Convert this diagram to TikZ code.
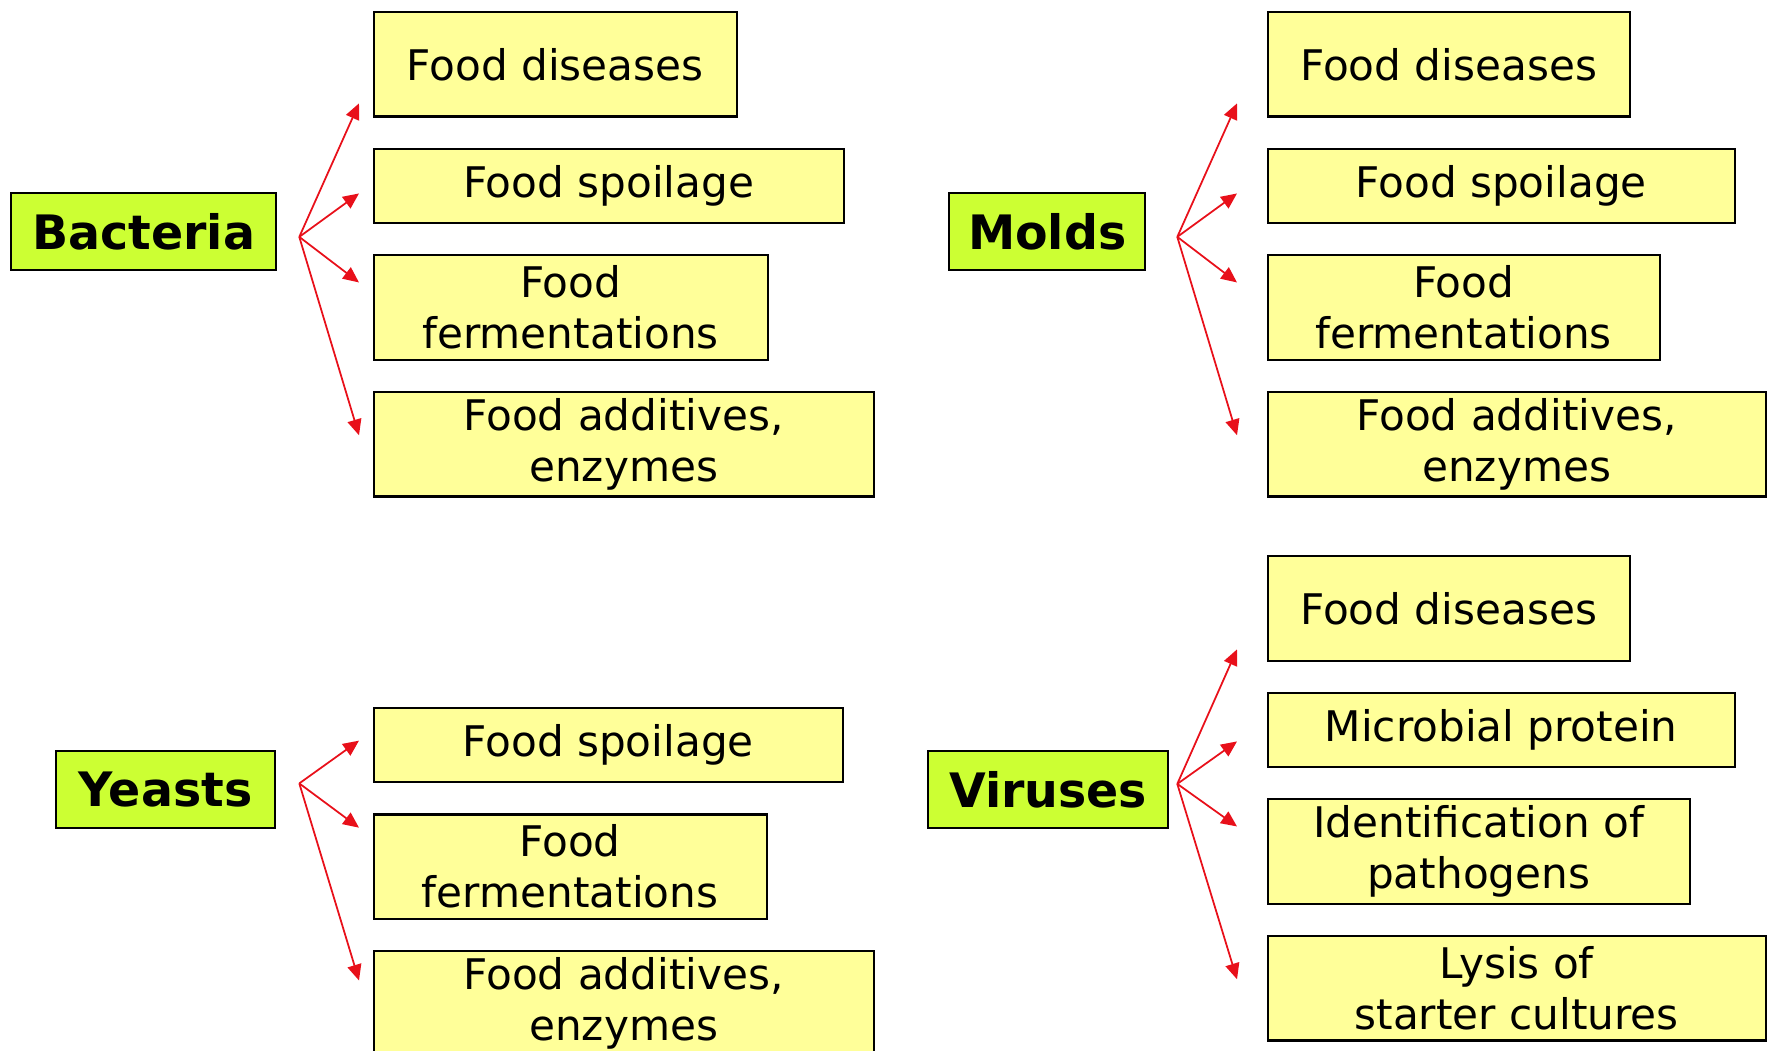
\documentclass[tikz,border=0pt]{standalone}
\usepackage{fontspec}
\setmainfont{DejaVu Sans}
\usetikzlibrary{positioning,arrows.meta}

\definecolor{boxyellow}{HTML}{FFFF99}
\definecolor{srcgreen}{HTML}{CCFF33}
\definecolor{arrred}{HTML}{E8101A}

\begin{document}
\begin{tikzpicture}[
  >={Triangle[length=9pt,width=8pt]},
  node distance=6mm,
  src/.style={draw, line width=1.3pt, fill=srcgreen, inner sep=0pt,
              minimum height=1.53cm, font=\fontsize{27}{32}\selectfont\bfseries},
  box/.style={draw, line width=1.3pt, fill=boxyellow, align=center, inner sep=0pt,
              minimum height=2.09cm, font=\fontsize{24}{29}\selectfont},
  low/.style={minimum height=1.48cm},
  arr/.style={->, line width=1pt, arrred},
]
\useasboundingbox (0,0) rectangle (35.48,-21.02);

% ---------- Bacteria ----------
\node[src, anchor=north west, minimum width=5.30cm] (bac) at (0.20,-3.84) {Bacteria};
\node[box, anchor=north west, minimum width=7.26cm] (bDis) at (7.45,-0.22) {Food diseases};
\node[box, low, below=of bDis.south west, anchor=north west, minimum width=9.40cm] (bSpo) {Food spoilage};
\node[box, below=of bSpo.south west, anchor=north west, minimum width=7.88cm] (bFer) {Food\\fermentations};
\node[box, below=of bFer.south west, anchor=north west, minimum width=10.00cm] (bAdd) {Food additives,\\enzymes};

\coordinate (bFork) at ([shift={(0.44,-0.11)}]bac.east);
\foreach \t/\dy in {bDis/-0.78, bSpo/-0.15, bFer/0.50, bAdd/0.18}
  \draw[arr] (bFork) -- ([shift={(-0.27,\dy)}]\t.west);

% ---------- Molds ----------
\node[src, anchor=north west, minimum width=3.92cm] (mol) at (18.96,-3.84) {Molds};
\node[box, anchor=north west, minimum width=7.24cm] (mDis) at (25.33,-0.22) {Food diseases};
\node[box, low, below=of mDis.south west, anchor=north west, minimum width=9.34cm] (mSpo) {Food spoilage};
\node[box, below=of mSpo.south west, anchor=north west, minimum width=7.84cm] (mFer) {Food\\fermentations};
\node[box, below=of mFer.south west, anchor=north west, minimum width=9.96cm] (mAdd) {Food additives,\\enzymes};

\coordinate (mFork) at ([shift={(0.62,-0.11)}]mol.east);
\foreach \t/\dy in {mDis/-0.78, mSpo/-0.15, mFer/0.50, mAdd/0.18}
  \draw[arr] (mFork) -- ([shift={(-0.59,\dy)}]\t.west);

% ---------- Yeasts ----------
\node[src, anchor=north west, minimum width=4.38cm] (yea) at (1.10,-15.00) {Yeasts};
\node[box, low, anchor=north west, minimum width=9.38cm] (ySpo) at (7.45,-14.14) {Food spoilage};
\node[box, below=of ySpo.south west, anchor=north west, minimum width=7.86cm] (yFer) {Food\\fermentations};
\node[box, below=of yFer.south west, anchor=north west, minimum width=10.00cm] (yAdd) {Food additives,\\enzymes};

\coordinate (yFork) at ([shift={(0.46,0.12)}]yea.east);
\foreach \t/\dy in {ySpo/0.09, yFer/0.78, yAdd/0.46}
  \draw[arr] (yFork) -- ([shift={(-0.27,\dy)}]\t.west);

% ---------- Viruses ----------
\node[src, anchor=north west, minimum width=4.80cm] (vir) at (18.54,-15.00) {Viruses};
\node[box, anchor=north west, minimum width=7.24cm] (vDis) at (25.33,-11.10) {Food diseases};
\node[box, low, below=of vDis.south west, anchor=north west, minimum width=9.34cm] (vMic) {Microbial protein};
\node[box, below=of vMic.south west, anchor=north west, minimum width=8.44cm] (vIde) {Identification of\\pathogens};
\node[box, below=of vIde.south west, anchor=north west, minimum width=9.96cm] (vLys) {Lysis of\\starter cultures};

\coordinate (vFork) at ([shift={(0.16,0.11)}]vir.east);
\foreach \t/\dy in {vDis/-0.82, vMic/-0.23, vIde/0.50, vLys/0.18}
  \draw[arr] (vFork) -- ([shift={(-0.59,\dy)}]\t.west);

\end{tikzpicture}
\end{document}
